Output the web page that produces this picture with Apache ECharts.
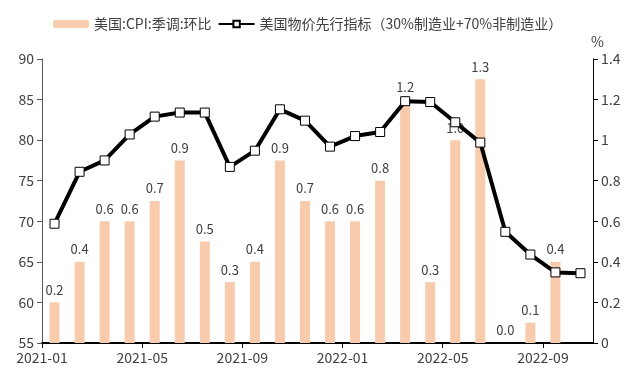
<!DOCTYPE html>
<html><head><meta charset="utf-8">
<script src="https://cdn.jsdelivr.net/npm/echarts@6/dist/echarts.min.js"></script>
<style>html,body{margin:0;padding:0;background:#fff}#c{width:640px;height:384px}</style>
</head><body><div id="c"></div>
<script>
var months = ['2021-01','2021-02','2021-03','2021-04','2021-05','2021-06','2021-07','2021-08','2021-09','2021-10','2021-11','2021-12','2022-01','2022-02','2022-03','2022-04','2022-05','2022-06','2022-07','2022-08','2022-09','2022-10'];
var cpiMoM = [0.2,0.4,0.6,0.6,0.7,0.9,0.5,0.3,0.4,0.9,0.7,0.6,0.6,0.8,1.2,0.3,1.0,1.3,0.0,0.1,0.4];
var leadIndicator = [69.7,76.1,77.5,80.7,82.9,83.4,83.4,76.7,78.7,83.8,82.4,79.2,80.5,81.0,84.8,84.7,82.2,79.7,68.7,65.9,63.7,63.6];
var tickPositions = [0,4,8,12,16,20];
var leftTicks = {min:55,max:90,interval:5};
var rightTicks = {min:0,max:1.4,interval:0.2};

var chart = echarts.init(document.getElementById('c'));
var txt = '#404040';
var font = '"Noto Sans CJK SC","Noto Sans",sans-serif';
chart.setOption({
  animation:false,
  textStyle:{fontFamily:font},
  legend:{
    top:12, left:48, itemWidth:36, itemHeight:8, itemGap:6,
    textStyle:{fontSize:14,color:txt,fontFamily:font},
    data:['美国:CPI:季调:环比','美国物价先行指标（30%制造业+70%非制造业）']
  },
  grid:{left:42,right:47,top:59,bottom:41},
  xAxis:{
    type:'value', min:0, max:months.length,
    axisLine:{show:true,lineStyle:{color:'#000',width:2}},
    axisTick:{show:true,length:5,customValues:tickPositions,lineStyle:{color:'#000'}},
    axisLabel:{customValues:tickPositions,formatter:function(v){return months[Math.round(v)]||'';},color:txt,fontSize:14,margin:8,fontFamily:font},
    splitLine:{show:false}
  },
  yAxis:[
    {type:'value',min:leftTicks.min,max:leftTicks.max,interval:leftTicks.interval,
     axisLine:{show:true,lineStyle:{color:'#595959'}},
     axisTick:{show:true,length:5,lineStyle:{color:'#595959'}},
     axisLabel:{color:txt,fontSize:14,margin:8,fontFamily:font},
     splitLine:{show:false}},
    {type:'value',min:rightTicks.min,max:rightTicks.max,interval:rightTicks.interval,position:'right',
     name:'%',nameLocation:'end',nameGap:10,nameTextStyle:{color:txt,fontSize:14,align:'left',padding:[0,0,0,-2]},
     axisLine:{show:true,lineStyle:{color:'#000'}},
     axisTick:{show:true,length:5,lineStyle:{color:'#000'}},
     axisLabel:{color:txt,fontSize:14,margin:8,fontFamily:font},
     splitLine:{show:false}}
  ],
  series:[
    {name:'美国:CPI:季调:环比',type:'bar',yAxisIndex:1,barWidth:10,z:2,
     itemStyle:{color:'#F8CBAD'},
     label:{show:true,position:'top',distance:6,color:txt,fontSize:13,fontFamily:font,
       formatter:function(p){return p.value[1].toFixed(1);}},
     data:cpiMoM.map(function(v,i){return [i+0.5,v];})},
    {name:'美国物价先行指标（30%制造业+70%非制造业）',type:'line',yAxisIndex:0,z:5,
     symbol:'rect',symbolSize:9,
     itemStyle:{color:'#fff',borderColor:'#000',borderWidth:1},
     lineStyle:{color:'#000',width:4},
     data:leadIndicator.map(function(v,i){return [i+0.5,v];})}
  ]
});
</script></body></html>
